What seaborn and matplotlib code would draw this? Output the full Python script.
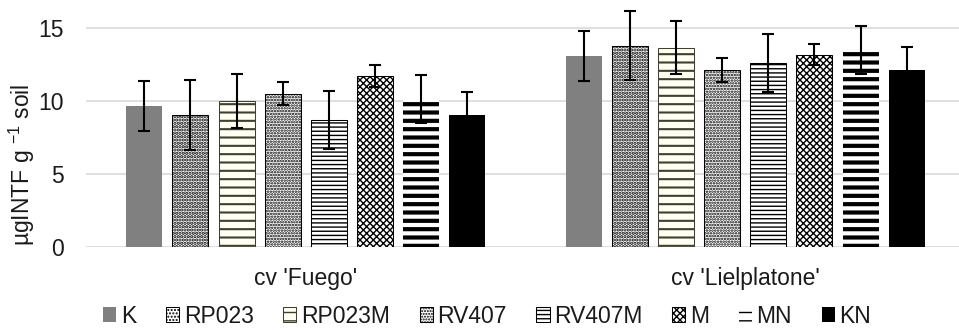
import numpy as np
import pandas as pd
import seaborn as sns
import matplotlib.pyplot as plt

# values
cultivars = ["cv 'Fuego'", "cv 'Lielplatone'"]
treatments = ["K", "RP023", "RP023M", "RV407", "RV407M", "M", "MN", "KN"]
fuego_mean = [9.65, 9.04, 9.99, 10.49, 8.70, 11.70, 10.15, 9.06]
fuego_err = [1.70, 2.38, 1.82, 0.80, 1.96, 0.72, 1.65, 1.57]
liel_mean = [13.07, 13.77, 13.63, 12.11, 12.61, 13.16, 13.48, 12.13]
liel_err = [1.72, 2.36, 1.81, 0.80, 1.97, 0.73, 1.64, 1.57]

face_colors = ["#808080", "white", "#fffff2", "white", "white", "white", "white", "black"]
edge_colors = ["#808080", "black", "#404030", "black", "black", "black", "black", "black"]
hatches = [None, ".....", "--", "......", "----", "xxxxx", "--", None]
edge_widths = [0, 0.75, 0.75, 0.75, 0.75, 0.75, 0, 0]
hatch_widths = [1, 1.6, 1.5, 1.2, 1.0, 1.0, 3.0, 1]

df = pd.DataFrame({
    "cultivar": np.repeat(cultivars, len(treatments)),
    "treatment": treatments * 2,
    "mean": fuego_mean + liel_mean,
    "err": fuego_err + liel_err,
})

sns.set_style("white")
plt.rcParams["font.family"] = ["Liberation Sans", "DejaVu Sans"]
plt.rcParams["mathtext.fontset"] = "custom"
plt.rcParams["mathtext.rm"] = "Liberation Sans"
plt.rcParams["mathtext.it"] = "Liberation Sans:italic"

fs = 16.5
txt = "#1a1a1a"

fig = plt.figure(figsize=(9.59, 3.30), dpi=100)
ax = fig.add_axes([86 / 959, 1 - 247.3 / 330, 879 / 959, 247.3 / 330])

sns.barplot(data=df, x="cultivar", y="mean", hue="treatment",
            hue_order=treatments, order=cultivars,
            palette=dict(zip(treatments, face_colors)), saturation=1,
            width=0.84, gap=0.22, errorbar=None, legend=False, ax=ax)

bar_conts = list(ax.containers)
for i, cont in enumerate(bar_conts):
    sub = df[df["treatment"] == treatments[i]].set_index("cultivar").loc[cultivars]
    for bar in cont.patches:
        bar.set_edgecolor(edge_colors[i])
        bar.set_linewidth(edge_widths[i])
        if hatches[i]:
            bar.set_hatch(hatches[i])
            if hasattr(bar, "set_hatch_linewidth"):
                bar.set_hatch_linewidth(hatch_widths[i])
    xs = [b.get_x() + b.get_width() / 2 for b in cont.patches]
    ax.errorbar(xs, sub["mean"].values, yerr=sub["err"].values, fmt="none",
                ecolor="black", elinewidth=1.5, capsize=4.5, capthick=1.5, zorder=5)

ax.set_xlim(-0.5, 1.5)
ax.set_ylim(0, 16.89)
ax.set_yticks([0, 5, 10, 15])
ax.yaxis.grid(True, color="#d9d9d9", linewidth=1.2)
ax.set_axisbelow(True)
for s in ax.spines.values():
    s.set_visible(False)
ax.tick_params(axis="both", length=0, labelsize=fs, colors=txt)
ax.tick_params(axis="x", pad=14)
ax.tick_params(axis="y", pad=16)
ax.set_xlabel("")
ax.set_ylabel("µgINTF g $^{\\mathrm{-1}}$ soil", fontsize=fs, color=txt)
ax.yaxis.label.set_verticalalignment("center")
ax.yaxis.set_label_coords((22 - 86) / 879, (247.3 - 165) / 247.3)

handles = [cont.patches[0] for cont in bar_conts]
fig.legend(handles, treatments, loc="center", bbox_to_anchor=(0.508, 0.042),
           ncol=8, frameon=False, fontsize=fs, labelcolor=txt,
           handlelength=0.57, handleheight=0.57, handletextpad=0.2,
           columnspacing=1.3, borderaxespad=0)

fig.savefig("out.png", dpi=100)
